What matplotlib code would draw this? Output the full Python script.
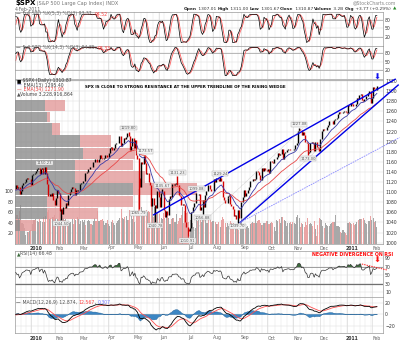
import numpy as np
import pandas as pd
import matplotlib
matplotlib.use('Agg')
import matplotlib.pyplot as plt
import matplotlib.transforms as mtransforms

W, H = 400, 341

# trading days 16-Nov-2009 .. 4-Feb-2011, the first 19 only feed the indicators
holidays = ['2009-11-26', '2009-12-25', '2010-01-01', '2010-01-18', '2010-02-15', '2010-04-02',
            '2010-05-31', '2010-07-05', '2010-09-06', '2010-11-25', '2010-12-24', '2011-01-17']
dates = pd.bdate_range('2009-11-16', '2011-02-04')
dates = dates[~dates.isin(pd.to_datetime(holidays))]
n_warm = 19

close = [
    # warm-up, Nov / early Dec 2009
    1109.3, 1110.3, 1109.8, 1094.9, 1091.4, 1106.2, 1105.7, 1110.6, 1091.5, 1095.6,
    1108.9, 1109.2, 1099.9, 1106.0, 1103.3, 1091.9, 1095.9, 1102.4, 1106.4,
    # Dec 2009
    1114.1, 1107.9, 1109.2, 1096.1, 1102.5, 1114.1, 1118.0, 1120.6, 1126.5, 1127.8, 1126.2, 1126.4, 1115.1,
    # Jan 2010
    1133.0, 1136.5, 1137.1, 1141.7, 1145.0, 1147.0, 1136.2, 1145.7, 1148.5, 1136.0,
    1150.2, 1138.0, 1116.5, 1091.8, 1096.8, 1092.2, 1097.5, 1084.5, 1073.9,
    # Feb 2010
    1089.2, 1103.3, 1097.3, 1063.1, 1066.2, 1056.7, 1070.5, 1068.1, 1078.5, 1075.5,
    1094.9, 1099.5, 1106.8, 1109.2, 1108.0, 1094.6, 1105.2, 1102.9, 1104.5,
    # Mar 2010
    1115.7, 1118.3, 1118.8, 1123.0, 1138.7, 1138.5, 1140.5, 1145.6, 1150.2, 1150.0,
    1150.5, 1159.5, 1166.2, 1165.8, 1159.9, 1165.8, 1174.2, 1167.7, 1165.7, 1166.6,
    1173.2, 1173.3, 1169.4,
    # Apr 2010
    1178.1, 1187.4, 1189.4, 1182.5, 1186.4, 1194.4, 1196.5, 1197.3, 1210.7, 1211.7,
    1192.1, 1197.5, 1207.2, 1205.9, 1208.7, 1217.3, 1212.1, 1183.7, 1191.4, 1206.8, 1186.7,
    # May 2010
    1202.3, 1173.6, 1165.9, 1128.2, 1110.9, 1159.7, 1155.8, 1171.7, 1157.4, 1135.7,
    1136.9, 1120.8, 1115.1, 1071.6, 1087.7, 1073.7, 1074.0, 1068.0, 1103.1, 1089.4,
    # Jun 2010
    1070.7, 1098.4, 1102.8, 1064.9, 1050.5, 1062.0, 1055.7, 1086.8, 1091.6, 1089.6,
    1115.2, 1114.6, 1116.0, 1117.5, 1113.2, 1095.3, 1092.0, 1073.7, 1076.8, 1074.6,
    1041.2, 1030.7,
    # Jul 2010
    1027.4, 1022.6, 1028.1, 1060.3, 1070.3, 1078.0, 1078.8, 1095.3, 1095.2, 1096.5,
    1064.9, 1071.3, 1083.5, 1069.6, 1093.7, 1102.7, 1115.0, 1113.8, 1106.1, 1101.5, 1101.6,
    # Aug 2010
    1125.9, 1120.5, 1127.2, 1125.8, 1121.6, 1127.8, 1121.1, 1089.5, 1083.6, 1079.3,
    1079.4, 1092.5, 1094.2, 1075.6, 1071.7, 1067.4, 1051.9, 1055.3, 1047.2, 1064.6,
    1048.9, 1049.3,
    # Sep 2010
    1080.3, 1090.1, 1104.5, 1091.8, 1098.9, 1104.2, 1109.6, 1121.9, 1121.1, 1125.1,
    1124.7, 1125.6, 1142.7, 1139.8, 1134.3, 1124.8, 1148.7, 1142.2, 1147.7, 1144.7, 1141.2,
    # Oct 2010
    1146.2, 1137.0, 1160.8, 1160.0, 1158.1, 1165.2, 1165.3, 1169.8, 1178.1, 1173.8,
    1176.2, 1184.7, 1165.9, 1178.2, 1180.3, 1183.1, 1185.6, 1185.6, 1182.5, 1183.8, 1183.3,
    # Nov 2010
    1184.4, 1193.6, 1198.0, 1221.1, 1225.9, 1223.3, 1213.4, 1218.7, 1213.5, 1199.2,
    1197.8, 1178.3, 1178.6, 1196.7, 1199.7, 1197.8, 1180.7, 1198.4, 1189.4, 1187.8, 1180.6,
    # Dec 2010
    1206.1, 1221.5, 1224.7, 1223.1, 1223.8, 1228.3, 1233.0, 1240.4, 1240.5, 1241.6,
    1235.2, 1242.9, 1243.9, 1247.1, 1254.6, 1258.8, 1256.8, 1257.5, 1258.5, 1259.8,
    1257.9, 1257.6,
    # Jan 2011
    1271.9, 1270.2, 1276.6, 1273.9, 1271.5, 1269.8, 1274.5, 1286.0, 1283.8, 1293.2,
    1295.0, 1281.9, 1280.3, 1283.4, 1290.8, 1291.2, 1296.6, 1299.5, 1276.3, 1286.1,
    # Feb 2011
    1307.6, 1304.0, 1307.1, 1310.9,
]

# volume, hundreds of millions of shares (plotted days only)
volume = [
    52, 55, 50, 63, 75, 40, 38, 30, 18, 22, 23, 24, 27,
    39, 45, 45, 48, 43, 42, 47, 43, 41, 51, 42, 54, 60, 65, 48, 50, 52, 51, 56,
    50, 48, 47, 60, 68, 53, 50, 45, 48, 44, 42, 40, 42, 47, 38, 47, 45, 52, 48,
    39, 44, 46, 42, 45, 37, 44, 45, 43, 38, 37, 43, 49, 43, 62, 43, 44, 46, 48, 44, 37, 40, 45,
    38, 35, 42, 45, 40, 36, 40, 43, 45, 50, 67, 50, 48, 51, 53, 46, 45, 64, 58, 47, 53,
    41, 60, 63, 105, 100, 70, 57, 53, 59, 65, 60, 62, 61, 81, 87, 51, 70, 60, 59, 40,
    58, 50, 47, 59, 50, 60, 55, 50, 38, 48, 50, 50, 42, 57, 39, 43, 50, 55, 71, 40, 62, 59,
    60, 41, 46, 46, 40, 32, 30, 48, 44, 51, 55, 41, 47, 50, 48, 40, 40, 45, 50, 42, 44,
    43, 42, 39, 39, 42, 32, 45, 52, 48, 40, 32, 40, 34, 43, 40, 30, 40, 38, 36, 35, 27, 40,
    47, 35, 29, 28, 32, 34, 31, 39, 40, 41, 40, 55, 40, 44, 45, 40, 37, 37, 40, 40, 44,
    43, 38, 40, 41, 40, 33, 25, 45, 44, 48, 40, 51, 52, 45, 43, 35, 40, 40, 41, 39, 42,
    40, 39, 52, 55, 50, 32, 40, 38, 33, 42, 36, 50, 39, 40, 38, 35, 44, 29, 15, 37, 50,
    47, 46, 35, 30, 40, 37, 34, 35, 38, 40, 42, 42, 55, 35, 35, 33, 22, 21, 26, 23, 20, 18,
    40, 42, 40, 38, 40, 36, 38, 42, 45, 48, 47, 48, 50, 45, 40, 39, 43, 44, 54, 45,
    50, 42, 43, 32,
]

# intraday extremes printed on the chart
intraday_high = {'2010-01-19': 1150.45, '2010-04-26': 1219.80, '2010-05-06': 1167.58,
                 '2010-05-13': 1173.57, '2010-06-03': 1105.67, '2010-06-21': 1131.23,
                 '2010-07-13': 1099.08, '2010-08-09': 1129.24, '2010-11-05': 1227.08,
                 '2011-02-04': 1311.00}
intraday_low = {'2010-02-05': 1044.50, '2010-05-06': 1065.79, '2010-05-25': 1040.78,
                '2010-07-01': 1010.91, '2010-07-20': 1056.88, '2010-08-27': 1039.70,
                '2010-11-16': 1173.00, '2011-02-04': 1301.67}

# price labels: date, price, text, above/below
price_labels = [
    ('2010-01-19', 1150.45, '1150.23', 'up'), ('2010-02-05', 1044.50, '1044.50', 'down'),
    ('2010-04-26', 1219.80, '1219.80', 'up'), ('2010-05-13', 1173.57, '1173.57', 'up'),
    ('2010-05-06', 1065.79, '1065.79', 'down'), ('2010-05-25', 1040.78, '1040.78', 'down'),
    ('2010-06-03', 1105.67, '1105.67', 'up'), ('2010-06-21', 1131.23, '1131.23', 'up'),
    ('2010-07-01', 1010.91, '1010.91', 'down'), ('2010-07-13', 1099.08, '1099.08', 'up'),
    ('2010-07-20', 1056.88, '1056.88', 'down'), ('2010-08-09', 1129.24, '1129.24', 'up'),
    ('2010-08-27', 1039.70, '1039.70', 'down'), ('2010-11-05', 1227.08, '1227.08', 'up'),
    ('2010-11-16', 1173.00, '1173.00', 'down'),
]

# volume-by-price rows: lower edge of each price zone, up / down volume
vbp_edges = [1023, 1047, 1071, 1095, 1119, 1143, 1166, 1190, 1214, 1238, 1261, 1285]
vbp_up = [5, 32, 32, 118, 60, 60, 68, 65, 37, 32, 30]
vbp_down = [16, 51, 86, 64, 70, 58, 52, 31, 8, 3, 20]

# hand-drawn trendlines: (bar, price) pairs
wedge_upper = [(110, 1055.2), (302.6, 1323.5)]
wedge_lower = [(179, 1040.0), (305, 1312.0)]
fan_line = [(179, 1040.0), (306, 1208.0)]
channel_lines = [[(137, 1011.0), (229, 1227.0)], [(179, 1040.0), (243, 1190.0)]]
rsi_divergence = [(276, 77.0), (296, 63.0)]

# ---- indicators
c = pd.Series(close, index=dates, dtype=float)
prev = c.shift(1).fillna(c)
hi = np.maximum(c, prev)
lo = np.minimum(c, prev)
for d, v in intraday_high.items():
    hi[d] = max(hi[d], v)
for d, v in intraday_low.items():
    lo[d] = min(lo[d], v)

ema13 = c.ewm(span=13, adjust=False).mean()
ema34 = c.ewm(span=34, adjust=False).mean()


def full_sto(k):
    ll = lo.rolling(k, min_periods=1).min()
    hh = hi.rolling(k, min_periods=1).max()
    fast = 100 * (c - ll) / (hh - ll)
    fk = fast.rolling(3, min_periods=1).mean()
    return fk, fk.rolling(3, min_periods=1).mean()


sto5_k, sto5_d = full_sto(5)
sto14_k, sto14_d = full_sto(14)
delta = c.diff().fillna(0)
up = delta.clip(lower=0).ewm(alpha=1 / 14, adjust=False).mean()
dn = (-delta.clip(upper=0)).ewm(alpha=1 / 14, adjust=False).mean()
rsi = 100 - 100 / (1 + up / dn)
macd = c.ewm(span=12, adjust=False).mean() - c.ewm(span=26, adjust=False).mean()
signal = macd.ewm(span=9, adjust=False).mean()
hist = macd - signal

sl = slice(n_warm, None)
disp = dates[sl]
x = np.arange(len(disp))
cd, pd_, hd, ld = c.values[sl], prev.values[sl], hi.values[sl], lo.values[sl]
is_up = cd >= pd_
idx = {d.strftime('%Y-%m-%d'): i for i, d in enumerate(disp)}

wk = disp.to_period('W')
week_starts = np.where(wk[1:] != wk[:-1])[0] + 1
mo = disp.to_period('M')
month_starts = np.where(mo[1:] != mo[:-1])[0] + 1

# ---- layout (pixels)
L, R = 15, 383
X0, X1 = -0.6, 292.9
GRID = '#e4e4e4'
FRAME = '#9a9a9a'
TXT = '#333333'

fig = plt.figure(figsize=(W / 100, H / 100), dpi=100)
plt.rcParams['font.family'] = ['DejaVu Sans']


def panel(top, bottom, ylim, yticks, label_ticks=True):
    ax = fig.add_axes([L / W, 1 - bottom / H, (R - L) / W, (bottom - top) / H])
    ax.set_xlim(X0, X1)
    ax.set_ylim(*ylim)
    ax.set_xticks([])
    ax.yaxis.tick_right()
    ax.set_yticks(yticks)
    if not label_ticks:
        ax.set_yticklabels([])
    ax.tick_params(axis='y', length=0, pad=1.5, labelsize=3.3, labelcolor=TXT)
    for s in ax.spines.values():
        s.set_color(FRAME)
        s.set_linewidth(0.5)
    for xi in week_starts:
        ax.axvline(xi - 0.5, color=GRID, lw=0.35, zorder=0)
    for xi in month_starts:
        ax.axvline(xi - 0.5, color='#d4d4d4', lw=0.4, zorder=0)
    for yi in yticks:
        ax.axhline(yi, color='#dedede', lw=0.35, zorder=0)
    return ax


def overlay(top, bottom):
    ax = fig.add_axes([L / W, 1 - bottom / H, (R - L) / W, (bottom - top) / H])
    ax.patch.set_visible(False)
    for s in ax.spines.values():
        s.set_visible(False)
    ax.set_xticks([])
    ax.set_yticks([])
    return ax


# stochastics panels
ax_s1 = panel(12, 46, (-12, 108), [20, 50, 80])
ax_s2 = panel(46, 79, (-12, 105), [20, 50, 80])
for ax, k, d in ((ax_s1, sto5_k, sto5_d), (ax_s2, sto14_k, sto14_d)):
    for lv in (20, 80):
        ax.axhline(lv, color='#a0a0a0', lw=0.5, zorder=1)
    ax.plot(x, d.values[sl], color='#ff6060', lw=0.6, zorder=2)
    ax.plot(x, k.values[sl], color='black', lw=0.5, zorder=3)

# main price panel
ax_m = panel(80, 244, (997.3, 1322), list(range(1000, 1321, 20)))
ax_v = overlay(80, 244)
ax_v.set_xlim(X0, X1)
ax_v.set_ylim(0, 312)
ax_v.yaxis.tick_left()
ax_v.set_yticks([20, 40, 60, 80, 100])
ax_v.tick_params(axis='y', length=0, pad=1, labelsize=3.3, labelcolor=TXT)
ax_v.bar(x, volume, width=0.85, color=np.where(is_up, '#a8a8a8', '#eaa4a4'), lw=0)

ax_b = overlay(80, 244)
ax_b.set_xlim(0, R - L)
ax_b.set_ylim(997.3, 1322)
heights = np.diff(vbp_edges)
ax_b.barh(vbp_edges[:-1], vbp_up, height=heights * 0.93, align='edge', color='#8c8c8c', alpha=0.8, lw=0)
ax_b.barh(vbp_edges[:-1], vbp_down, left=vbp_up, height=heights * 0.93, align='edge',
          color='#e39a9a', alpha=0.8, lw=0)

ax_p = overlay(80, 244)
ax_p.set_xlim(X0, X1)
ax_p.set_ylim(997.3, 1322)
ax_p.vlines(x, ld, hd, colors=np.where(is_up, 'black', '#d40000'), lw=1.0)
ax_p.plot(x, ema34.values[sl], color='#e84848', lw=0.6)
ax_p.plot(x, ema13.values[sl], color='#3a3aa8', lw=0.6)
for (xa, ya), (xb, yb) in [wedge_upper, wedge_lower]:
    ax_p.plot([xa, xb], [ya, yb], color='#0000e6', lw=1.0, clip_on=False)
ax_p.plot([p[0] for p in fan_line], [p[1] for p in fan_line], color='#8a8aff', lw=0.6,
          ls=(0, (2, 1)), clip_on=False)
for seg in channel_lines:
    ax_p.plot([p[0] for p in seg], [p[1] for p in seg], color='#b0b0b0', lw=0.4, ls=(0, (1, 1)))
for d, price, txt, side in price_labels:
    off = 1.2 if side == 'up' else -1.2
    ax_p.annotate(txt, (idx[d], price), xytext=(0, off), textcoords='offset points', ha='center',
                  va='bottom' if side == 'up' else 'top', fontsize=2.7, color='#555555',
                  bbox=dict(boxstyle='square,pad=0.12', fc='#f2f2f2', ec='#aaaaaa', lw=0.3),
                  annotation_clip=False, zorder=5)

# RSI panel
ax_r = panel(251, 297, (-0.6, 107.6), [10, 30, 50, 70, 90])
r = rsi.values[sl]
ax_r.axhline(70, color='#909090', lw=0.6, zorder=1)
ax_r.axhline(30, color='#707070', lw=0.9, zorder=1)
ax_r.fill_between(x, r, 70, where=r > 70, color='#3d6b3d', lw=0, interpolate=True, zorder=2)
ax_r.fill_between(x, r, 30, where=r < 30, color='#6a6ae0', lw=0, interpolate=True, zorder=2)
ax_r.plot(x, r, color='#333333', lw=0.5, zorder=3)
ax_r.plot([p[0] for p in rsi_divergence], [p[1] for p in rsi_divergence], color='#ff2020',
          lw=0.7, ls=(0, (1.5, 1)), clip_on=False, zorder=4)

# MACD panel
ax_c = panel(297, 333, (-33, 29.6), [-20, 0, 20])
hv = hist.values[sl]
ax_c.fill_between(x, hv, 0, color='#3b86c4', lw=0.3, edgecolor='#1f5f95', zorder=2)
ax_c.plot(x, signal.values[sl], color='#ff5050', lw=0.6, zorder=3)
ax_c.plot(x, macd.values[sl], color='black', lw=0.6, zorder=4)

# ---- text layer in pixel coordinates
ax_t = fig.add_axes([0, 0, 1, 1])
ax_t.set_xlim(0, W)
ax_t.set_ylim(H, 0)
ax_t.axis('off')


def chain(x0, y0, pieces, size=3.3, right=False):
    seq = list(reversed(pieces)) if right else pieces
    t = None
    for s, kw in seq:
        opts = dict(fontsize=size, color=TXT, va='bottom', ha='right' if right else 'left')
        opts.update(kw)
        if t is None:
            t = ax_t.text(x0, y0, s, **opts)
        else:
            t = ax_t.annotate(s, xy=(0 if right else 1, 0), xycoords=t, **opts)
    return t


chain(15, 6.5, [('$SPX', dict(fontweight='bold', color='black', fontsize=5)),
                (' (S&P 500 Large Cap Index) INDX', dict(color='#777777', fontsize=3.6))])
ax_t.text(15, 12, '4-Feb-2011', fontsize=3.3, color='#666666', va='bottom')
ax_t.text(396, 5, '@StockCharts.com', fontsize=3.3, color='#888888', ha='right', va='bottom')
b = dict(fontweight='bold', color='#222222')
chain(396, 11, [('Open', b), (' 1307.01 ', {}), ('High', b), (' 1311.00 ', {}), ('Low', b),
                (' 1301.67 ', {}), ('Close', b), (' 1310.87 ', {}), ('Volume', b), (' 3.2B ', {}),
                ('Chg', b), (' +3.77 (+0.29%) ', {}), ('\u25b2', dict(color='#2a8a2a'))],
      size=3.2, right=True)

chain(16, 16.5, [('\u2014', dict(color='black')), (' Full STO %K(5,3) %D(3) 93.37, ', dict(color='#666666')),
                 ('94.52', dict(color='#ff4040'))])
chain(16, 50.5, [('\u2014', dict(color='black')), (' Full STO %K(14,3) %D(3) 94.85, ', dict(color='#666666')),
                 ('93.33', dict(color='#ff4040'))])
chain(17, 83, [('\u25a0', dict(color='black')), (' $SPX (Daily) 1310.87', dict(color='#444444'))])
chain(17, 87.5, [('\u2014', dict(color='#3a3aa8')), (' EMA(13) 1295.40', dict(color='#444444'))])
chain(17, 92, [('\u2014', dict(color='#e84848')), (' EMA(34) 1271.90', dict(color='#e84848'))])
chain(17, 96.5, [('\u25b2', dict(color='#555555')), ('Volume 3,228,916,864', dict(color='#444444'))])
ax_t.text(85, 89, 'SPX IS CLOSE TO STRONG RESISTANCE AT THE UPPER TRENDLINE OF THE RISING WEDGE',
          fontsize=2.85, fontweight='bold', color='black', va='bottom')
ax_t.text(377, 82, '\u2b07', fontsize=6, color='#1010ee', ha='center', va='bottom')

chain(17, 256.5, [('\u25b2', dict(color='#3d6b3d')), ('RSI(14) 66.48', dict(color='#555555'))])
ax_t.text(353, 256.5, 'NEGATIVE DIVERGENCE ON RSI', fontsize=3.4, fontweight='bold', color='#ff1010',
          ha='center', va='bottom')
ax_t.text(377, 265, '\u2b07', fontsize=6, color='#ff1010', ha='center', va='bottom')
chain(16, 305, [('\u2014', dict(color='black')), (' MACD(12,26,9) 12.874, ', dict(color='#555555')),
                ('12.567', dict(color='#ff4040')), (', ', dict(color='#555555')),
                ('0.307', dict(color='#7a7aff'))])

# month labels under the main panel and under the MACD panel
names = {2: 'Feb', 3: 'Mar', 4: 'Apr', 5: 'May', 6: 'Jun', 7: 'Jul', 8: 'Aug', 9: 'Sep',
         10: 'Oct', 11: 'Nov', 12: 'Dec'}
tr = mtransforms.blended_transform_factory(ax_m.transData, ax_t.transData)
for i in month_starts:
    d = disp[i]
    lab = str(d.year) if d.month == 1 else names[d.month]
    kw = dict(fontweight='bold', color='#333333') if d.month == 1 else dict(color='#666666')
    for yy in (250.5, 340.5):
        ax_t.text(i + 3, yy, lab, transform=tr, fontsize=3.3, ha='center', va='bottom', **kw)

fig.savefig('out.png', dpi=100)
